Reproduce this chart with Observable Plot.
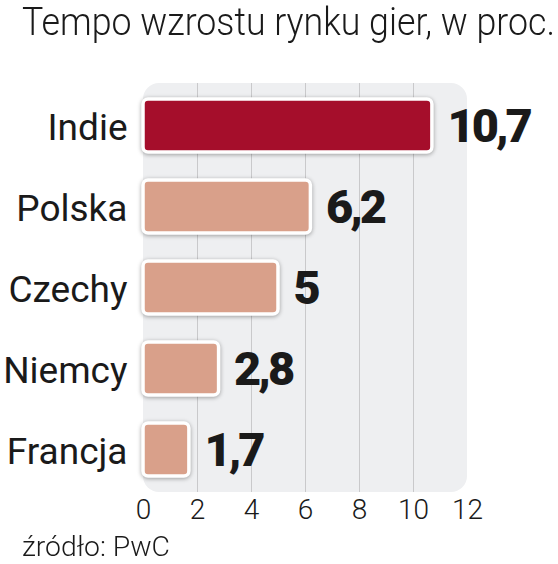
<!DOCTYPE html>
<html>
<head>
<meta charset="utf-8">
<script src="https://cdn.jsdelivr.net/npm/d3@7"></script>
<script src="https://cdn.jsdelivr.net/npm/@observablehq/plot@0.6"></script>
<style>
  html, body { margin: 0; padding: 0; background: #fff; }
  body { width: 558px; height: 564px; overflow: hidden; font-family: Roboto, "Noto Sans", sans-serif; color: #1a1a1a; }
  #title { height: 50px; white-space: nowrap; }
  #title span { display: inline-block; font-size: 39px; font-weight: 300; margin-left: 22px; line-height: 44px; transform-origin: 0 50%; color: #1a1a1a; }
  #caption { white-space: nowrap; }
  #caption span { display: inline-block; font-size: 27px; font-weight: 300; margin-left: 22px; line-height: 34px; transform-origin: 0 50%; color: #1a1a1a; }
  #chart svg { display: block; }
  .bars rect { filter: drop-shadow(0px 1px 2px rgba(0,0,0,0.35)); }
  .vals text { letter-spacing: -3px; }
</style>
</head>
<body>
<div id="title"><span>Tempo wzrostu rynku gier, w proc.</span></div>
<div id="chart"></div>
<div id="caption"><span>źródło: PwC</span></div>
<script>
const categories = ["Indie", "Polska", "Czechy", "Niemcy", "Francja"];
const values = [10.7, 6.2, 5, 2.8, 1.7];
const valueLabels = ["10,7", "6,2", "5", "2,8", "1,7"];
const highlight = ["Indie"];
const xTicks = [0, 2, 4, 6, 8, 10, 12];
const gridTicks = [2, 4, 6, 8, 10];

const data = categories.map((c, i) => ({category: c, value: values[i], label: valueLabels[i]}));

const chart = Plot.plot({
  width: 558,
  height: 480,
  marginTop: 33,
  marginBottom: 38,
  marginLeft: 143,
  marginRight: 91,
  style: {fontFamily: "Roboto, 'Noto Sans', sans-serif", background: "transparent", color: "#1a1a1a"},
  x: {domain: [0, 12], axis: null},
  y: {domain: categories, paddingInner: 0.35, paddingOuter: 0.175, axis: null},
  marks: [
    Plot.rect([0], {x1: 0, x2: 12, fill: "#eeeff1", rx: 16}),
    Plot.ruleX(gridTicks, {stroke: "#c9c9cb", strokeWidth: 1}),
    Plot.barX(data, {
      x: "value", y: "category",
      fill: d => highlight.includes(d.category) ? "#a50e2b" : "#d9a08a",
      stroke: "#ffffff", strokeWidth: 3.5, rx: 5,
      className: "bars"
    }),
    Plot.text(data, {
      x: "value", y: "category", text: "label",
      textAnchor: "start", dx: 15, dy: 1,
      fontSize: 47, fontWeight: 900, fill: "#1a1a1a",
      className: "vals"
    }),
    Plot.text(categories, {
      x: 0, y: d => d, text: d => d,
      textAnchor: "end", dx: -16, dy: 2,
      fontSize: 37, fontWeight: 400, fill: "#1a1a1a"
    }),
    Plot.text(xTicks, {
      x: d => d, text: d => String(d),
      frameAnchor: "bottom", dy: 26,
      fontSize: 28, fontWeight: 300, fill: "#1a1a1a"
    })
  ]
});
document.getElementById("chart").appendChild(chart);

function fitWidth(sel, target) {
  const el = document.querySelector(sel);
  const w = el.getBoundingClientRect().width;
  el.style.transform = `scaleX(${target / w})`;
}
fitWidth("#title span", 533);
fitWidth("#caption span", 148);
</script>
</body>
</html>
